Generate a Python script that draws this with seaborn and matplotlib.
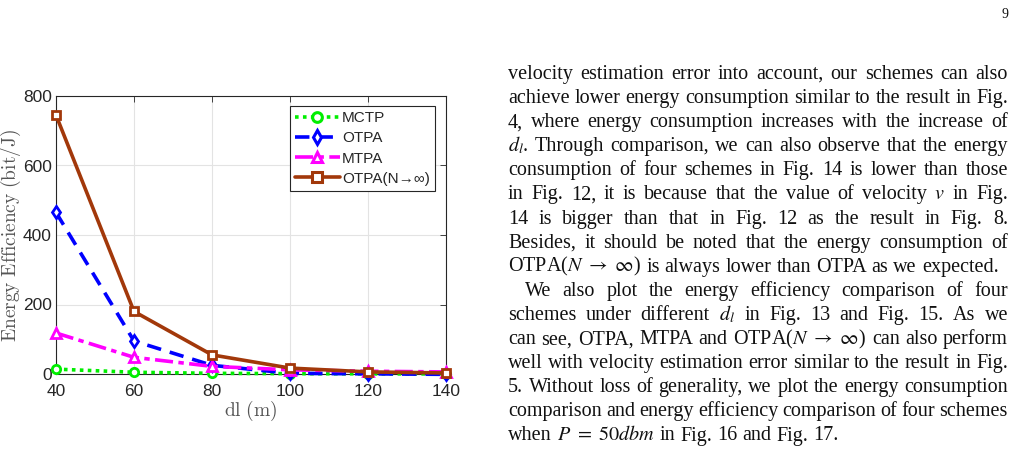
import re
import numpy as np
import pandas as pd
import seaborn as sns
import matplotlib
matplotlib.use('Agg')
import matplotlib.pyplot as plt
from matplotlib.lines import Line2D

# data
dl = [40, 60, 80, 100, 120, 140]
mctp = [14, 5, 2, 1, 0.5, 0.3]
otpa = [465, 95, 25, 2, 0.5, -1]
mtpa = [118, 48, 22, 12, 8, 6]
otpa_inf = [745, 180, 55, 17, 6, 3]

series_names = ['MCTP', 'OTPA', 'MTPA', 'OTPA(N→∞)']

paragraph_lines = [
    "velocity estimation error into account, our schemes can also",
    "achieve lower energy consumption similar to the result in Fig.",
    "4, where energy consumption increases with the increase of",
    "$d_l$. Through comparison, we can also observe that the energy",
    "consumption of four schemes in Fig. 14 is lower than those",
    "in Fig. 12, it is because that the value of velocity $v$ in Fig.",
    "14 is bigger than that in Fig. 12 as the result in Fig. 8.",
    "Besides, it should be noted that the energy consumption of",
    r"OTPA($N\ \rightarrow\ \infty$) is always lower than OTPA as we expected.",
    "We also plot the energy efficiency comparison of four",
    "schemes under different $d_l$ in Fig. 13 and Fig. 15. As we",
    r"can see, OTPA, MTPA and OTPA($N\ \rightarrow\ \infty$) can also perform",
    "well with velocity estimation error similar to the result in Fig.",
    "5. Without loss of generality, we plot the energy consumption",
    "comparison and energy efficiency comparison of four schemes",
    r"when $P\ =\ 50dbm$ in Fig. 16 and Fig. 17.",
]
last_of_par = {8, 15}
indented = {9}

sns.set_theme(style='white')
plt.rcParams['font.family'] = ['Liberation Sans', 'DejaVu Sans']

fig = plt.figure(figsize=(10.17, 4.58), dpi=100)
W, H = 1017, 458
ax = fig.add_axes([56 / W, 1 - 374 / H, 390 / W, 278 / H])

df = pd.DataFrame({'dl': dl, 'MCTP': mctp, 'OTPA': otpa, 'MTPA': mtpa, 'OTPA(N→∞)': otpa_inf})

styles = [
    dict(color='#00ee00', ls=(0, (1, 1.2)), marker='o', ms=6),
    dict(color='#0000ff', ls=(0, (4, 2.5)), marker='d', ms=6.5),
    dict(color='#ff00ff', ls=(0, (5, 1.5, 1.5, 1.5)), marker='^', ms=6.5),
    dict(color='#a2380a', ls='-', marker='s', ms=5.5),
]

handles = []
for name, st in zip(series_names, styles):
    sns.lineplot(data=df, x='dl', y=name, ax=ax, color=st['color'], linestyle=st['ls'],
                 linewidth=2.6, marker=st['marker'], markersize=st['ms'],
                 markerfacecolor='white', markeredgecolor=st['color'], markeredgewidth=2,
                 clip_on=False, zorder=3)
    handles.append(Line2D([], [], color=st['color'], linestyle=st['ls'], linewidth=2.6,
                          marker=st['marker'], markersize=st['ms'] + 1, markerfacecolor='white',
                          markeredgecolor=st['color'], markeredgewidth=2.2))

ax.set_xlim(40, 140)
ax.set_ylim(0, 800)
ax.set_xticks(dl)
ax.set_yticks([0, 200, 400, 600, 800])
ax.grid(True, color='#e3e3e3', linewidth=0.8)
for sp in ax.spines.values():
    sp.set_color('#262626')
    sp.set_linewidth(0.8)
ax.tick_params(axis='both', direction='in', length=4, width=0.6, color='#262626',
               labelsize=12.5, labelcolor='#262626', top=True, right=True)
ax.tick_params(axis='x', pad=7)
ax.tick_params(axis='y', pad=3)

ax.set_xlabel(r'$\mathrm{dl\ (m)}$', math_fontfamily='cm', fontsize=14, color='#555555', labelpad=0)
ax.set_ylabel(r'$\mathrm{Energy\ Efficiency\ (bit/J)}$', math_fontfamily='cm', fontsize=14,
              color='#555555', labelpad=0)

leg = ax.legend(handles, series_names, loc='upper right', bbox_to_anchor=(0.98, 0.975),
                fontsize=11, handlelength=2.9, handletextpad=0.15, borderpad=0.35,
                labelspacing=0.4, borderaxespad=0.2, frameon=True, fancybox=False, framealpha=1)
leg.get_frame().set_edgecolor('#262626')
leg.get_frame().set_linewidth(0.8)

# page number
fig.text(1002 / W, 1 - 18 / H, '9', family='Liberation Serif', fontsize=10, color='#111111')

# justified paragraph text
renderer = fig.canvas.get_renderer()
fs = 14.5
x_left, x_right = 508, 1008
probe2 = fig.text(0, 0, 'a a', family='Liberation Serif', fontsize=fs)
probe1 = fig.text(0, 0, 'aa', family='Liberation Serif', fontsize=fs)
sp_w = probe2.get_window_extent(renderer).width - probe1.get_window_extent(renderer).width
probe1.remove()
probe2.remove()


def split_words(s):
    # split on spaces that are not inside $...$
    return re.findall(r'(?:\$[^$]*\$|[^ $])+', s)


for i, line in enumerate(paragraph_lines):
    y = 1 - (79 + i * 24.1) / H
    x0 = x_left + (17 if i in indented else 0)
    words = split_words(line)
    texts = [fig.text(0, y, w, family='Liberation Serif', fontsize=fs, color='#111111',
                      math_fontfamily='stix', va='baseline') for w in words]
    widths = [t.get_window_extent(renderer).width for t in texts]
    if i in last_of_par or len(words) < 2:
        gap = sp_w
    else:
        gap = (x_right - x0 - sum(widths)) / (len(words) - 1)
    x = x0
    for t, w in zip(texts, widths):
        t.set_x(x / W)
        x += w + gap

fig.savefig('out.png', dpi=100)
